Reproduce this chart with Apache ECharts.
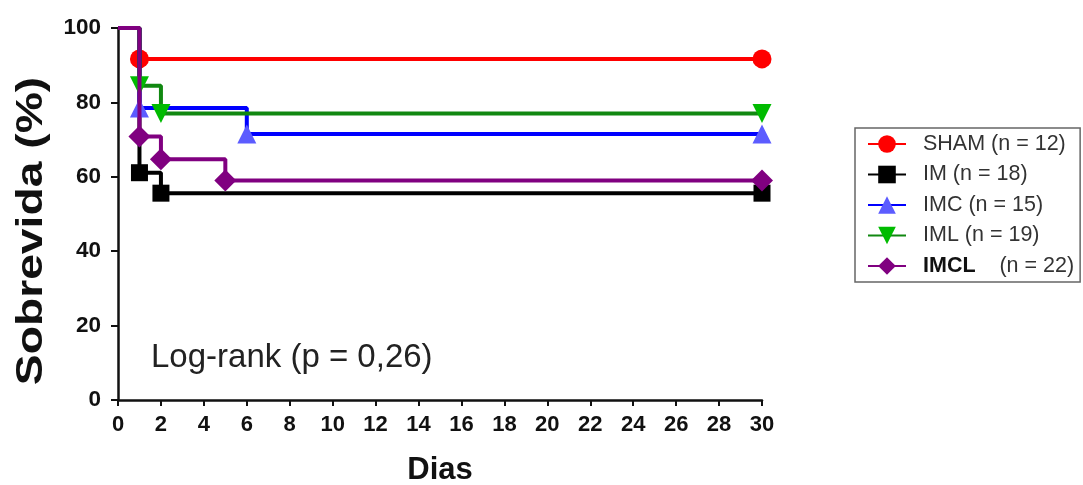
<!DOCTYPE html>
<html>
<head>
<meta charset="utf-8">
<script src="https://cdn.jsdelivr.net/npm/echarts@6/dist/echarts.min.js"></script>
<style>html,body{margin:0;padding:0;background:#fff}#c{width:1083px;height:485px}</style>
</head>
<body>
<div id="c"></div>
<script>
// Data (days, survival %)
const seriesNames = ['SHAM (n = 12)', 'IM (n = 18)', 'IMC (n = 15)', 'IML (n = 19)', 'IMCL (n = 22)'];
const shamDays = [0, 1, 30];
const shamSurv = [100, 91.7, 91.7];
const imDays = [0, 1, 2, 30];
const imSurv = [100, 61.1, 55.6, 55.6];
const imcDays = [0, 1, 6, 30];
const imcSurv = [100, 78.5, 71.5, 71.5];
const imlDays = [0, 1, 2, 30];
const imlSurv = [100, 84.5, 77.0, 77.0];
const imclDays = [0, 1, 2, 5, 30];
const imclSurv = [100, 70.8, 64.7, 59.0, 59.0];
const xTicks = [0, 2, 4, 6, 8, 10, 12, 14, 16, 18, 20, 22, 24, 26, 28, 30];
const yTicks = [0, 20, 40, 60, 80, 100];
const annotation = 'Log-rank (p = 0,26)';
const yTitle = 'Sobrevida (%)';
const xTitle = 'Dias';

function pts(days, surv) {
  return days.map((d, i) => i === 0 ? { value: [d, surv[i]], symbol: 'none' } : [d, surv[i]]);
}

const styles = [
  { line: '#ff0000', mark: '#ff0000', symbol: 'circle', size: 19 },
  { line: '#000000', mark: '#000000', symbol: 'rect', size: 17 },
  { line: '#0000ff', mark: '#5c5cff', symbol: 'triangle', size: 19 },
  { line: '#118811', mark: '#00bb00', symbol: 'path://M0,0 L10,0 L5,9 Z', size: 19 },
  { line: '#800080', mark: '#800080', symbol: 'diamond', size: 22 }
];
const allData = [
  pts(shamDays, shamSurv), pts(imDays, imSurv), pts(imcDays, imcSurv),
  pts(imlDays, imlSurv), pts(imclDays, imclSurv)
];

const chart = echarts.init(document.getElementById('c'), null, { renderer: 'canvas' });
const fam = 'Liberation Sans, Arial, sans-serif';
chart.setOption({
  animation: false,
  backgroundColor: '#ffffff',
  grid: { left: 118, right: 321, top: 28, bottom: 85, containLabel: false, outerBoundsMode: 'none' },
  title: {
    text: annotation, left: 146, top: 336,
    textStyle: { fontSize: 33, fontWeight: 'normal', color: '#222', fontFamily: fam }
  },
  graphic: [{
    type: 'text', x: 32, y: 231, rotation: Math.PI / 2, scaleX: 1.25, scaleY: 1,
    style: { text: yTitle, font: 'bold 37px Liberation Sans, Arial, sans-serif', fill: '#111',
      textAlign: 'center', textVerticalAlign: 'middle' }
  }],
  legend: {
    orient: 'vertical', left: 855, top: 128,
    data: seriesNames,
    borderColor: '#666', borderWidth: 1.5, borderRadius: 0,
    padding: [5, 6, 5, 12],
    itemWidth: 38, itemHeight: 22, itemGap: 8.5,
    textStyle: { fontSize: 21.5, color: '#333', fontFamily: fam, padding: [0, 0, 0, 12],
      rich: { b: { fontSize: 21.5, fontWeight: 'bold', color: '#111', fontFamily: fam } } },
    formatter: function (name) {
      if (name.indexOf('IMCL') === 0) return '{b|IMCL}    (n = 22)';
      return name;
    }
  },
  xAxis: {
    type: 'value', min: 0, max: 30, interval: 2,
    name: xTitle, nameLocation: 'middle', nameGap: 55,
    nameTextStyle: { fontSize: 31, fontWeight: 'bold', color: '#111', fontFamily: fam },
    axisLine: { lineStyle: { color: '#111', width: 2.5 } },
    axisTick: { show: true, length: 6, lineStyle: { color: '#111', width: 2 } },
    axisLabel: { fontSize: 22, fontWeight: 'bold', color: '#111', margin: 14, fontFamily: fam,
      formatter: v => xTicks.indexOf(v) >= 0 ? String(v) : '' },
    splitLine: { show: false }
  },
  yAxis: {
    type: 'value', min: 0, max: 100, interval: 20,
    axisLine: { show: true, lineStyle: { color: '#111', width: 2.5 } },
    axisTick: { show: true, length: 7, lineStyle: { color: '#111', width: 2 } },
    axisLabel: { fontSize: 22.5, fontWeight: 'bold', color: '#111', margin: 17, fontFamily: fam,
      formatter: v => yTicks.indexOf(v) >= 0 ? String(v) : '' },
    splitLine: { show: false }
  },
  series: seriesNames.map((n, i) => ({
    name: n, type: 'line', step: 'end',
    data: allData[i],
    symbol: styles[i].symbol, symbolSize: styles[i].size,
    lineStyle: { color: styles[i].line, width: 4 },
    itemStyle: { color: styles[i].mark },
    emphasis: { disabled: true },
    z: 2 + i
  }))
});
</script>
</body>
</html>
